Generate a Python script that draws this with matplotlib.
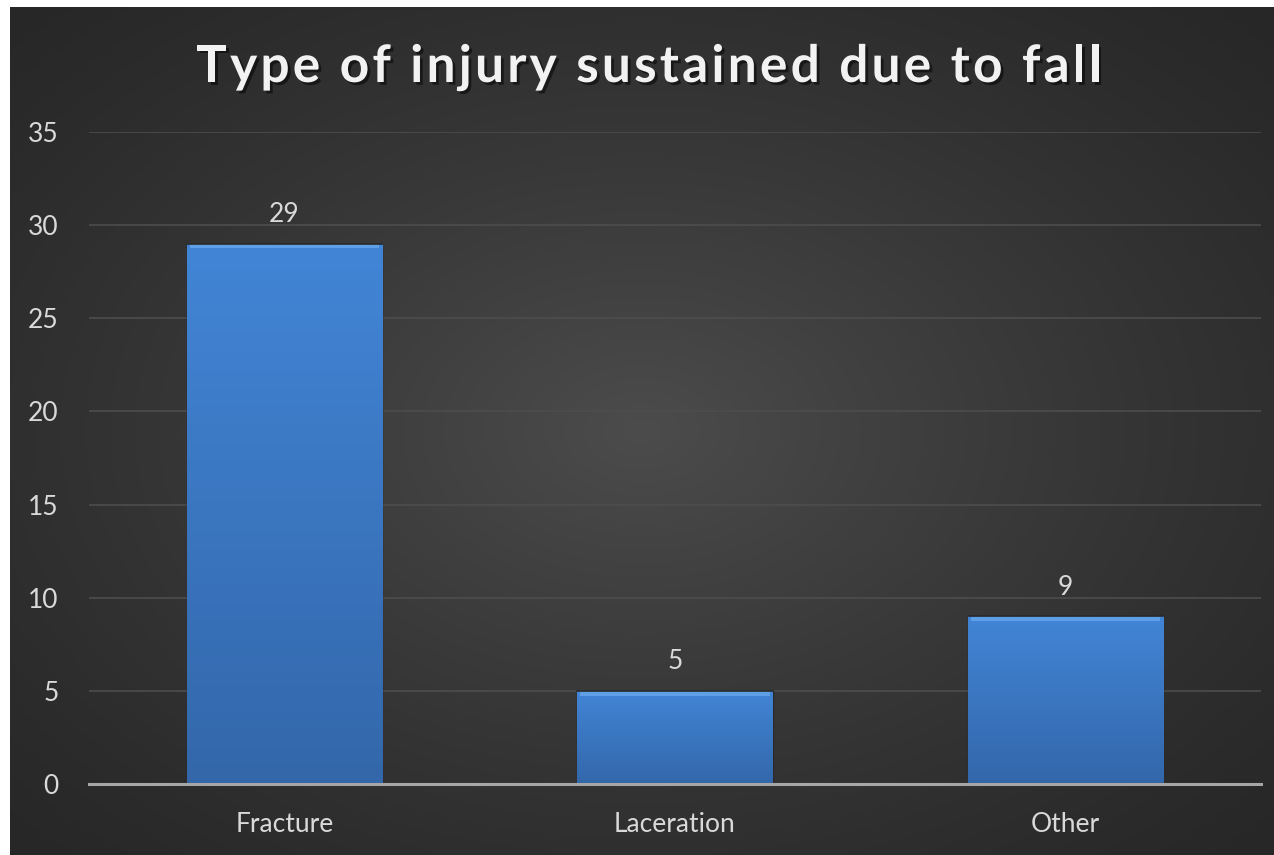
import matplotlib
matplotlib.use("Agg")
import matplotlib.pyplot as plt
import matplotlib.patheffects as pe
from matplotlib.patches import Rectangle
import numpy as np

# data
categories = ["Fracture", "Laceration", "Other"]
counts = [29, 5, 9]
yticks = [0, 5, 10, 15, 20, 25, 30, 35]
title = "Type of injury sustained due to fall"

plt.rcParams['font.family'] = ['Lato', 'DejaVu Sans']

W, H = 1274, 855
fig = plt.figure(figsize=(W / 100, H / 100), dpi=100)
fig.patch.set_facecolor('#262626')

# dark panel with a soft radial glow in the middle
bg = fig.add_axes([10 / W, 0, 1 - 10 / W, 1 - 7 / H])
yy, xx = np.mgrid[0:1:300j, 0:1:450j]
r = np.sqrt(((xx - 0.5) / 0.75) ** 2 + ((yy - 0.5) / 0.75) ** 2)
shade = np.clip(1 - r, 0, 1) ** 1.3
lo = np.array([0x26, 0x26, 0x26]) / 255
hi = np.array([0x4c, 0x4c, 0x4c]) / 255
img = lo + (hi - lo) * shade[..., None]
bg.imshow(img, aspect='auto', extent=[0, 1, 0, 1], interpolation='bicubic')
bg.set_xlim(0, 1)
bg.set_ylim(0, 1)
bg.set_axis_off()

# white margins at top and left
fig.add_artist(Rectangle((0, 0), 10 / W, 1, transform=fig.transFigure,
                         facecolor='white', edgecolor='none', zorder=10))
fig.add_artist(Rectangle((0, 1 - 7 / H), 1, 7 / H, transform=fig.transFigure,
                         facecolor='white', edgecolor='none', zorder=10))

ax = fig.add_axes([89 / W, 71 / H, 1172 / W, 652 / H])
ax.set_facecolor('none')

x = np.arange(len(categories))
bars = ax.bar(x, counts, width=0.5, color='#3d7bcb', edgecolor='#2a2a2a',
              linewidth=1.0, zorder=3)

# vertical gradient inside each bar
grad = np.linspace(0, 1, 256)[:, None]
top_c = np.array([0x42, 0x85, 0xd6]) / 255
bot_c = np.array([0x33, 0x67, 0xaa]) / 255
gimg = top_c + (bot_c - top_c) * grad[..., None]
gimg = np.repeat(gimg, 2, axis=1)
for b in bars:
    bx, by = b.get_x(), b.get_y()
    bw, bh = b.get_width(), b.get_height()
    im = ax.imshow(gimg, extent=[bx, bx + bw, by, by + bh], aspect='auto',
                   zorder=3.5, interpolation='bicubic')
    im.set_clip_path(b)
    # bevel highlight along the top edge
    ax.bar(bx + bw / 2, 0.22, width=bw * 0.97, bottom=by + bh - 0.25,
           color='#5f9fe6', linewidth=0, zorder=4)
    ax.plot([bx, bx + bw], [by + bh, by + bh], color='#2a2a2a', lw=1.2, zorder=5)
    ax.annotate(str(int(bh)), (bx + bw / 2, by + bh), xytext=(0, 12),
                textcoords='offset points', ha='center', va='bottom',
                fontsize=19, color='#d9d9d9', zorder=6)

ax.set_xlim(-0.5, len(categories) - 0.5)
ax.set_ylim(0, 35)
ax.set_yticks(yticks)
ax.set_xticks(x)
ax.set_xticklabels(categories)
ax.tick_params(axis='both', length=0, colors='#d9d9d9', labelsize=19)
ax.tick_params(axis='y', pad=22)
ax.tick_params(axis='x', pad=20)
ax.yaxis.grid(True, color='#4d4d4d', linewidth=1.2, zorder=0)
ax.set_axisbelow(True)
for s in ['top', 'right', 'left']:
    ax.spines[s].set_visible(False)
ax.spines['bottom'].set_color('#a6a6a6')
ax.spines['bottom'].set_linewidth(2.2)
ax.spines['bottom'].set_zorder(6)

# title with widened letter spacing: place each character by hand
renderer = fig.canvas.get_renderer()
tkw = dict(fontsize=37, fontweight='bold', color='#f2f2f2', va='baseline',
           ha='left',
           path_effects=[pe.withSimplePatchShadow(offset=(2, -2),
                                                  shadow_rgbFace='black',
                                                  alpha=0.5)])
spacing = 3.2  # extra pixels between letters
widths = []
for ch in title:
    t = fig.text(0, 0, ch if ch != ' ' else 'n', **tkw)
    wpx = t.get_window_extent(renderer).width
    if ch == ' ':
        wpx *= 0.45
    widths.append(wpx)
    t.remove()
total = sum(widths) + spacing * (len(title) - 1)
xpos = 649 - total / 2
for ch, wpx in zip(title, widths):
    if ch != ' ':
        fig.text(xpos / W, 1 - 82 / H, ch, **tkw)
    xpos += wpx + spacing

fig.savefig('out.png', dpi=100, facecolor=fig.get_facecolor())
